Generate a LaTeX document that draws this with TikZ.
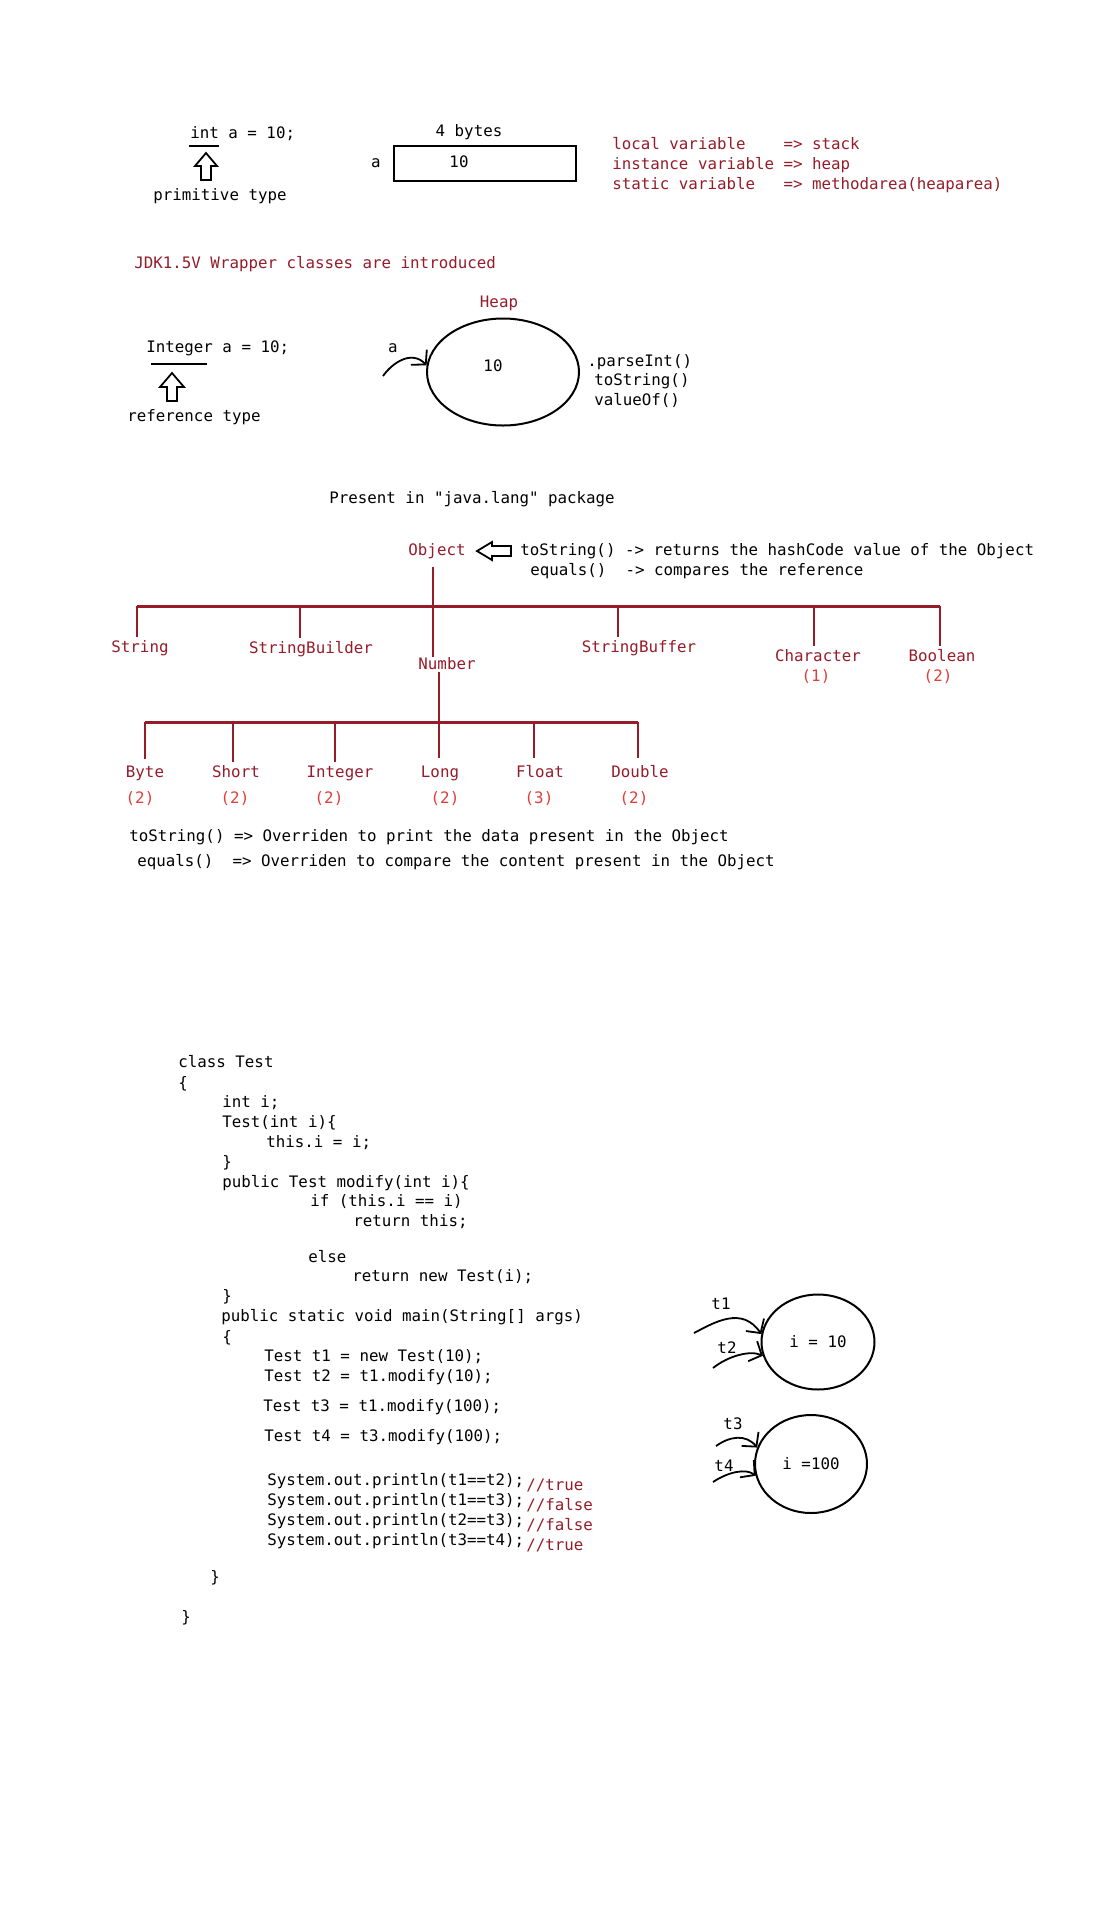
\documentclass[tikz,border=0pt]{standalone}
\usepackage{fontspec}
\setmonofont{DejaVu Sans Mono}
\usepackage{tikz}
\usetikzlibrary{shapes.geometric,arrows.meta}
\definecolor{darkred}{RGB}{150,28,42}
\definecolor{cntred}{RGB}{226,62,56}
\def\codefont{\ttfamily\fontsize{7.9}{9.5}\selectfont}

\begin{document}
\begin{tikzpicture}[x=0.5pt, y=-0.5pt,
		txt/.style={font=\codefont, inner sep=0pt, text height=5.5pt, text depth=1.5pt},
		redtxt/.style={txt, text=darkred},
		cnt/.style={txt, text=cntred},
		bar/.style={draw=darkred, line width=1.5pt},
		drop/.style={draw=darkred, line width=1pt},
		hollow/.style={line width=0.9pt, line join=miter},
		blob/.style={draw, ellipse, line width=1pt, inner sep=0pt, font=\codefont},
		ptr/.style={-{Straight Barb[length=5pt,width=11pt]}, line width=0.9pt}]
		%%%%% START %%%%%
		\useasboundingbox[fill=white] (0,0) rectangle (1106,1908);
		
		% primitive
		\node[txt, anchor=west] (intdecl) at (190,134) {int a = 10;};
		\draw[line width=1pt] (189,146) -- (219,146);
		\draw[hollow] (206,153) -- (217,166) -- (211,166) -- (211,180) -- (201,180) -- (201,166) -- (195,166) -- cycle;
		\node[txt] (primtype) at (220,196) {primitive type};
		
		\node[txt] (bytes) at (469,132) {4 bytes};
		\node[draw, line width=1pt, minimum width=91pt, minimum height=17.5pt, inner sep=0pt] (cell) at (485,163.5) {};
		\node[txt] (cellval) at (459,163) {10};
		\node[txt] (cellname) at (376,163) {a};
		
		\node[redtxt, anchor=west] (memlocal) at (612,145) {local variable\ \ \ \ => stack};
		\node[redtxt, anchor=west] (meminst) at (612,165) {instance variable => heap};
		\node[redtxt, anchor=west] (memstatic) at (612,185) {static variable\ \ \ => methodarea(heaparea)};
		
		% wrapper
		\node[redtxt, anchor=west] (jdk) at (134,264) {JDK1.5V Wrapper classes are introduced};
		\node[redtxt] (heap) at (499,303) {Heap};
		
		\node[txt, anchor=west] (integerdecl) at (146,348) {Integer a = 10;};
		\draw[line width=1pt] (151,364) -- (207,364);
		\draw[hollow] (172,373) -- (184,387) -- (177,387) -- (177,401) -- (167,401) -- (167,387) -- (160,387) -- cycle;
		\node[txt] (reftype) at (194,417) {reference type};
		
		\node[txt] (refa) at (393,348) {a};
		\node[blob, minimum width=76pt, minimum height=53.5pt] (heapobj) at (503,372) {};
		\node[txt] (heapval) at (493,367) {10};
		\coordinate (refastart) at (383,376);
		\draw[ptr] (refastart) .. controls (393,362) and (412,350) .. (heapobj.175);
		
		\node[txt, anchor=west] (mparse) at (587,362) {.parseInt()};
		\node[txt, anchor=west] (mtostr) at (594,381) {toString()};
		\node[txt, anchor=west] (mvalue) at (594,401) {valueOf()};
		
		% java.lang tree
		\node[txt, anchor=west] (pkg) at (329,499) {Present in "java.lang" package};
		\node[redtxt] (object) at (437,551) {Object};
		\draw[hollow] (477,551) -- (492,542) -- (492,546) -- (511,546) -- (511,556) -- (492,556) -- (492,560) -- cycle;
		\node[txt, anchor=west] (tostr) at (520,551) {toString() -> returns the hashCode value of the Object};
		\node[txt, anchor=west] (eqls) at (530,571) {equals()\ \ -> compares the reference};
		
		\node[redtxt] (string) at (140,648) {String};
		\node[redtxt] (sbuilder) at (311,649) {StringBuilder};
		\node[redtxt] (number) at (447,665) {Number};
		\node[redtxt] (sbuffer) at (639,648) {StringBuffer};
		\node[redtxt] (character) at (818,657) {Character};
		\node[redtxt] (boolean) at (942,657) {Boolean};
		\node[cnt] (ncharacter) at (816,677) {(1)};
		\node[cnt] (nboolean) at (938,677) {(2)};
		
		\coordinate (dString) at (137,606);
		\coordinate (dBuilder) at (300,606);
		\coordinate (dNumber) at (433,606);
		\coordinate (dBuffer) at (618,606);
		\coordinate (dChar) at (814,606);
		\coordinate (dBool) at (940,606);
		\draw[bar] (dString) -- (dBool);
		\draw[drop] ([yshift=-4.5pt]object.south -| dNumber) -- ([yshift=0.5pt]dNumber |- number.north);
		\draw[drop] (dString) -- ([yshift=2pt]dString |- string.north);
		\draw[drop] (dBuilder) -- ([yshift=2pt]dBuilder |- sbuilder.north);
		\draw[drop] (dBuffer) -- ([yshift=2pt]dBuffer |- sbuffer.north);
		\draw[drop] (dChar) -- ([yshift=2pt]dChar |- character.north);
		\draw[drop] (dBool) -- ([yshift=2pt]dBool |- boolean.north);
		
		\node[redtxt] (byte) at (145,773) {Byte};
		\node[redtxt] (short) at (236,773) {Short};
		\node[redtxt] (integer) at (340,773) {Integer};
		\node[redtxt] (long) at (440,773) {Long};
		\node[redtxt] (float) at (540,773) {Float};
		\node[redtxt] (double) at (640,773) {Double};
		\node[cnt] (nbyte) at (140,799) {(2)};
		\node[cnt] (nshort) at (235,799) {(2)};
		\node[cnt] (ninteger) at (329,799) {(2)};
		\node[cnt] (nlong) at (445,799) {(2)};
		\node[cnt] (nfloat) at (539,799) {(3)};
		\node[cnt] (ndouble) at (634,799) {(2)};
		
		\coordinate (dByte) at (145,722);
		\coordinate (dShort) at (233,722);
		\coordinate (dInteger) at (335,722);
		\coordinate (dLong) at (439,722);
		\coordinate (dFloat) at (534,722);
		\coordinate (dDouble) at (638,722);
		\draw[bar] (dByte) -- (dDouble);
		\draw[drop] (number.south -| dLong) -- ([yshift=4pt]dLong |- long.north);
		\draw[drop] (dByte) -- ([yshift=3.5pt]dByte |- byte.north);
		\draw[drop] (dShort) -- ([yshift=2pt]dShort |- short.north);
		\draw[drop] (dInteger) -- ([yshift=2pt]dInteger |- integer.north);
		\draw[drop] (dFloat) -- ([yshift=4pt]dFloat |- float.north);
		\draw[drop] (dDouble) -- ([yshift=4pt]dDouble |- double.north);
		
		\node[txt, anchor=west] (ovrtostr) at (129,837) {toString() => Overriden to print the data present in the Object};
		\node[txt, anchor=west] (ovreqls) at (137,862) {equals()\ \ => Overriden to compare the content present in the Object};
		
		% class Test
		\node[txt, anchor=west] (c1) at (178,1063) {class Test};
		\node[txt, anchor=west] (c2) at (178,1084) {\{};
		\node[txt, anchor=west] (c3) at (222,1103) {int i;};
		\node[txt, anchor=west] (c4) at (222,1123) {Test(int i)\{};
		\node[txt, anchor=west] (c5) at (266,1143) {this.i = i;};
		\node[txt, anchor=west] (c6) at (222,1163) {\}};
		\node[txt, anchor=west] (c7) at (222,1183) {public Test modify(int i)\{};
		\node[txt, anchor=west] (c8) at (310,1202) {if (this.i == i)};
		\node[txt, anchor=west] (c9) at (353,1222) {return this;};
		\node[txt, anchor=west] (c10) at (308,1258) {else};
		\node[txt, anchor=west] (c11) at (352,1277) {return new Test(i);};
		\node[txt, anchor=west] (c12) at (222,1297) {\}};
		\node[txt, anchor=west] (c13) at (221,1317) {public static void main(String[] args)};
		\node[txt, anchor=west] (c14) at (222,1338) {\{};
		\node[txt, anchor=west] (c15) at (264,1357) {Test t1 = new Test(10);};
		\node[txt, anchor=west] (c16) at (264,1377) {Test t2 = t1.modify(10);};
		\node[txt, anchor=west] (c17) at (263,1407) {Test t3 = t1.modify(100);};
		\node[txt, anchor=west] (c18) at (264,1437) {Test t4 = t3.modify(100);};
		\node[txt, anchor=west] (c19) at (267,1481) {System.out.println(t1==t2);};
		\node[txt, anchor=west] (c20) at (267,1501) {System.out.println(t1==t3);};
		\node[txt, anchor=west] (c21) at (267,1521) {System.out.println(t2==t3);};
		\node[txt, anchor=west] (c22) at (267,1541) {System.out.println(t3==t4);};
		\node[redtxt, anchor=west] (r19) at (526,1486) {//true};
		\node[redtxt, anchor=west] (r20) at (526,1506) {//false};
		\node[redtxt, anchor=west] (r21) at (526,1526) {//false};
		\node[redtxt, anchor=west] (r22) at (526,1546) {//true};
		\node[txt, anchor=west] (c23) at (210,1578) {\}};
		\node[txt, anchor=west] (c24) at (181,1618) {\}};
		
		% objects t1..t4
		\node[blob, minimum width=56.5pt, minimum height=47.5pt] (objten) at (818,1342) {i = 10};
		\node[blob, minimum width=56pt, minimum height=49pt] (objhundred) at (811,1464) {i =100};
		\node[txt] (lt1) at (721,1305) {t1};
		\node[txt] (lt2) at (727,1349) {t2};
		\node[txt] (lt3) at (733,1425) {t3};
		\node[txt] (lt4) at (724,1467) {t4};
		\coordinate (st1) at (694,1333);
		\coordinate (st2) at (713,1368);
		\coordinate (st3) at (716,1446);
		\coordinate (st4) at (713,1482);
		\draw[ptr] (st1) .. controls (715,1322) and (742,1306) .. (objten.172);
		\draw[ptr] (st2) .. controls (728,1356) and (750,1350) .. (objten.194);
		\draw[ptr] (st3) .. controls (730,1436) and (746,1434) .. (objhundred.163);
		\draw[ptr] (st4) .. controls (728,1472) and (746,1468) .. (objhundred.192);
		
		%%%%% END %%%%%
	\end{tikzpicture}
\end{document}
